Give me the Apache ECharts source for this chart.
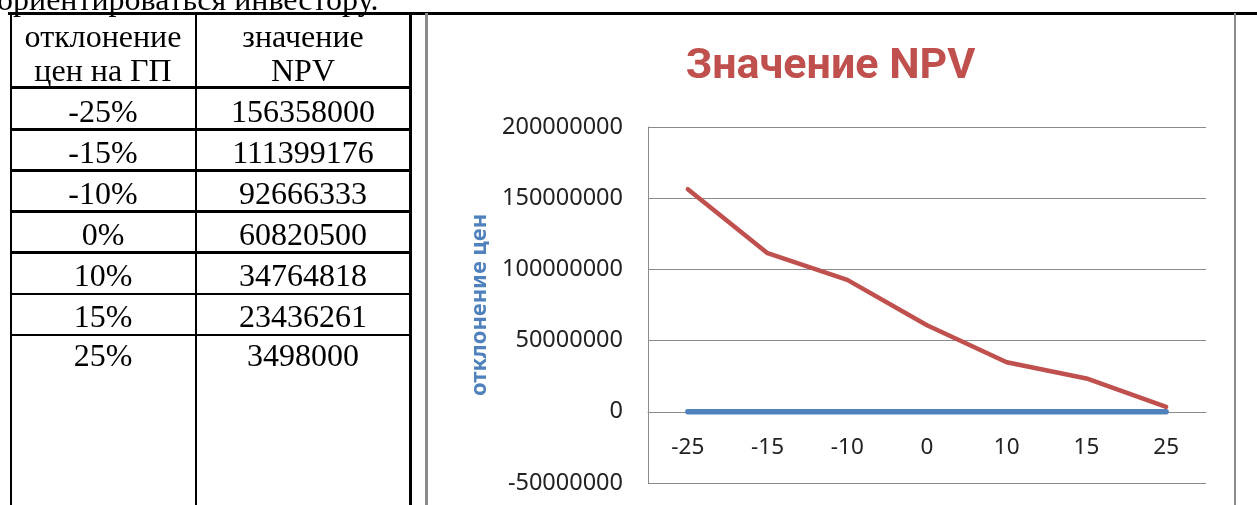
<!DOCTYPE html>
<html><head><meta charset="utf-8">
<script src="https://cdn.jsdelivr.net/npm/echarts@6/dist/echarts.min.js"></script>
<style>
html,body{margin:0;padding:0;width:1257px;height:505px;overflow:hidden;background:#fff;}
#page{position:relative;width:1257px;height:505px;overflow:hidden;}
.ln{position:absolute;background:#000;}
.gl{position:absolute;background:#8a8a8a;}
.tx{position:absolute;font-family:"Liberation Serif","Times New Roman",serif;font-size:32px;line-height:32px;color:#000;white-space:nowrap;text-align:center;}
#chart{position:absolute;left:427px;top:14px;width:807px;height:491px;}
</style></head>
<body><div id="page"><div id="chart"></div></div>
<script>
// ---- data ----
const categories = ['-25', '-15', '-10', '0', '10', '15', '25'];
const npvValues = [156358000, 111399176, 92666333, 60820500, 34764818, 23436261, 3498000];
const deviationValues = [-0.25, -0.15, -0.10, 0, 0.10, 0.15, 0.25];
const deviationLabels = ['-25%', '-15%', '-10%', '0%', '10%', '15%', '25%'];
const headerCol1 = ['отклонение', 'цен на ГП'];
const headerCol2 = ['значение', 'NPV'];
const leadText = 'ориентироваться инвестору.';
const chartTitle = 'Значение NPV';
const yAxisName = 'отклонение цен';
const yMin = -50000000, yMax = 200000000, yInterval = 50000000;

// ---- layout (page table) ----
const page = document.getElementById('page');
function line(cls, l, t, w, h) {
  const d = document.createElement('div'); d.className = cls;
  d.style.left = l + 'px'; d.style.top = t + 'px'; d.style.width = w + 'px'; d.style.height = h + 'px';
  page.appendChild(d);
}
function text(str, l, w, baseline, align) {
  const d = document.createElement('div'); d.className = 'tx';
  d.textContent = str; d.style.left = l + 'px'; d.style.width = w + 'px';
  d.style.top = (baseline - 27) + 'px';
  if (align) d.style.textAlign = align;
  page.appendChild(d);
}
const col = [[10, 186], [196, 214]];
line('ln', 8, 12, 1249, 3);
line('ln', 9.5, 12, 2.6, 493);
line('ln', 194.8, 12, 2.6, 493);
line('ln', 409.3, 12, 2.8, 493);
line('gl', 425, 13, 2.6, 492);
line('gl', 1233.8, 13, 2.6, 492);
const rowLines = [87.3, 129.3, 170.7, 211.7, 252.7, 294, 335];
rowLines.forEach(y => line('ln', 9.5, y - 1.4, 402, 2.8));
text(leadText, -3, 500, 10, 'left');
text(headerCol1[0], col[0][0], col[0][1], 47);
text(headerCol1[1], col[0][0], col[0][1], 81);
text(headerCol2[0], col[1][0], col[1][1], 47);
text(headerCol2[1], col[1][0], col[1][1], 81);
const baselines = [122, 162.5, 204, 245, 286, 327, 366];
deviationLabels.forEach((s, i) => {
  text(s, col[0][0], col[0][1], baselines[i]);
  text(String(npvValues[i]), col[1][0], col[1][1], baselines[i]);
});

// ---- chart ----
const gridTop = 113, gridBottom = 22, chartH = 491;
const gridH = chartH - gridTop - gridBottom;
const zeroOffset = -gridH * (0 - yMin) / (yMax - yMin);
const chart = echarts.init(document.getElementById('chart'), null, {renderer: 'canvas'});
chart.setOption({
  animation: false,
  title: {
    text: chartTitle, left: 'center', top: 27,
    textStyle: {fontFamily: 'Roboto', fontWeight: 'bold', fontSize: 43, color: '#C0504D'}
  },
  grid: {left: 221, right: 28, top: gridTop, bottom: gridBottom, containLabel: false, outerBoundsMode: 'none'},
  xAxis: {
    type: 'category', data: categories, boundaryGap: true, position: 'bottom',
    offset: zeroOffset,
    axisLine: {show: true, onZero: false, lineStyle: {color: '#8a8a8a', width: 1}},
    axisTick: {show: false},
    axisLabel: {show: true, interval: 0, hideOverlap: false, margin: 24, fontSize: 22.5, color: '#222', fontFamily: 'Noto Sans'},
    splitLine: {show: false}
  },
  yAxis: {
    type: 'value', min: yMin, max: yMax, interval: yInterval,
    name: yAxisName, nameLocation: 'middle', nameGap: 156,
    nameTextStyle: {color: '#4F81BD', fontWeight: 'bold', fontSize: 22, fontFamily: 'Noto Sans'},
    axisLine: {show: true, onZero: false, lineStyle: {color: '#8a8a8a', width: 1}},
    axisTick: {show: false},
    axisLabel: {margin: 25, fontSize: 23.5, color: '#222', fontFamily: 'Noto Sans', formatter: v => String(v)},
    splitLine: {show: true, lineStyle: {color: '#8a8a8a', width: 1}}
  },
  series: [
    {type: 'line', name: yAxisName, data: deviationValues, showSymbol: false, color: '#4F81BD',
     lineStyle: {color: '#4F81BD', width: 5.5, cap: 'round'}, z: 2},
    {type: 'line', name: 'NPV', data: npvValues, showSymbol: false, color: '#C0504D',
     lineStyle: {color: '#C0504D', width: 4.5, cap: 'round', join: 'round'}, z: 3}
  ]
});
</script></body></html>
